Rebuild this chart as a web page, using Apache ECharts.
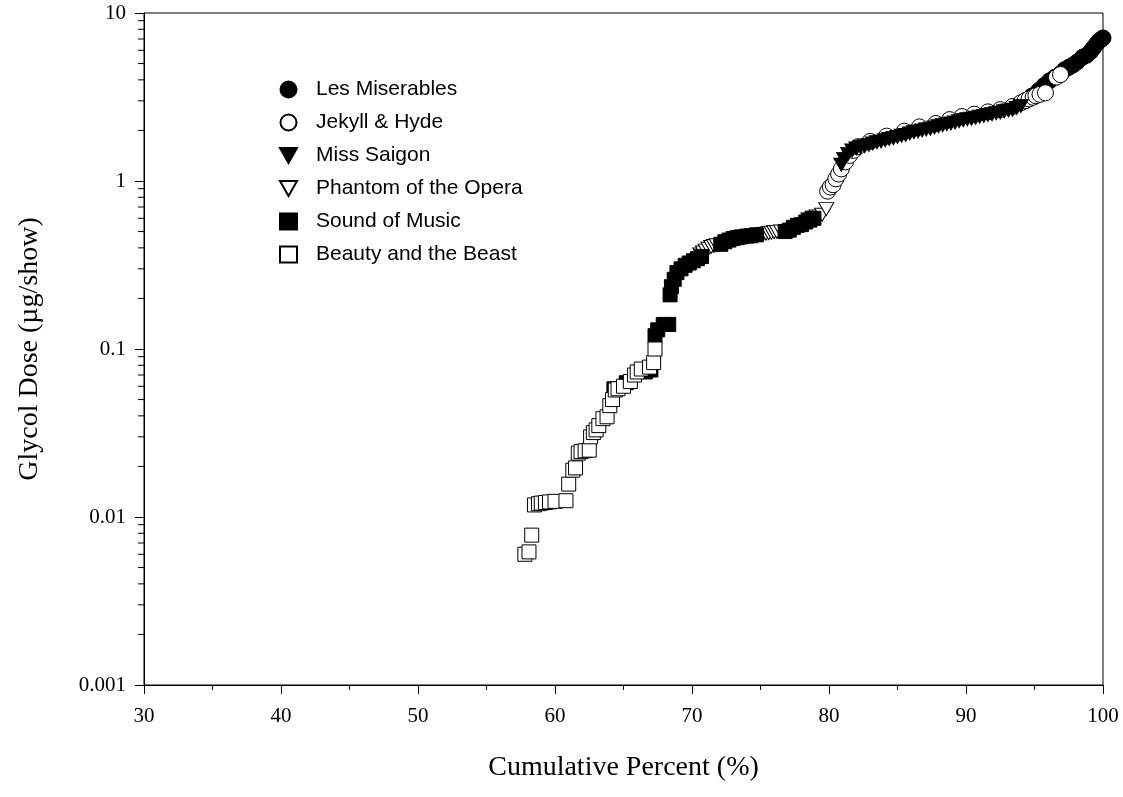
<!DOCTYPE html>
<html lang="en">

<head>
    <meta charset="UTF-8">
    <title>Glycol dose</title>
    <script src="https://cdn.jsdelivr.net/npm/echarts@6/dist/echarts.min.js"></script>
    <style>
        body { margin: 0; background: #fff; }
    </style>
</head>

<body>
    <div id="main" style="width: 1123px;height: 797px;"></div>

    <script type="text/javascript">
        // x = cumulative percent, y = dose (ug/show)
        var lesMiserables = [[94.3, 3.0], [94.8, 3.2], [95.3, 3.45], [95.7, 3.7], [96.1, 3.95], [96.5, 4.15], [96.9, 4.35],
            [97.2, 4.6], [97.5, 4.75], [97.8, 4.9], [98.1, 5.1], [98.5, 5.45], [98.8, 5.6], [99.1, 5.9], [99.3, 6.2],
            [99.5, 6.5], [99.7, 6.8], [99.9, 7.0], [100.0, 7.1]];
        var jekyllHyde = [[79.9, 0.87], [80.1, 0.92], [80.3, 0.95], [80.5, 1.03], [80.7, 1.10], [80.9, 1.18], [81.2, 1.30],
            [81.5, 1.42], [81.8, 1.52], [82.1, 1.60], [83.0, 1.72], [84.2, 1.85], [85.5, 1.98], [86.6, 2.10], [87.8, 2.20],
            [88.8, 2.32], [89.7, 2.42], [90.6, 2.50], [91.6, 2.58], [92.5, 2.66], [93.4, 2.78], [94.0, 2.92], [94.3, 3.00],
            [94.6, 3.08], [94.9, 3.15], [95.1, 3.22], [95.4, 3.28], [95.8, 3.35], [96.6, 4.15], [96.9, 4.30]];
        var missSaigon = [[80.9, 1.25], [81.1, 1.35], [81.4, 1.45], [81.7, 1.52], [82.0, 1.56], [82.3, 1.59], [82.6, 1.61],
            [82.9, 1.64], [83.2, 1.67], [83.5, 1.70], [83.8, 1.72], [84.1, 1.75], [84.4, 1.78], [84.7, 1.80], [85.0, 1.83],
            [85.3, 1.86], [85.6, 1.88], [85.9, 1.92], [86.2, 1.95], [86.5, 1.97], [86.8, 2.00], [87.1, 2.03], [87.4, 2.05],
            [87.7, 2.08], [88.0, 2.12], [88.3, 2.15], [88.6, 2.18], [88.9, 2.20], [89.2, 2.23], [89.5, 2.27], [89.8, 2.30],
            [90.1, 2.33], [90.4, 2.35], [90.7, 2.38], [91.0, 2.41], [91.3, 2.44], [91.6, 2.47], [91.9, 2.50], [92.2, 2.53],
            [92.5, 2.56], [92.8, 2.60], [93.1, 2.63], [93.4, 2.66], [93.7, 2.72], [94.0, 2.80]];
        var phantom = [[70.6, 0.365], [70.8, 0.375], [71.0, 0.385], [71.2, 0.395], [71.4, 0.405], [71.6, 0.410], [71.8, 0.415],
            [73.8, 0.462], [75.0, 0.480], [75.2, 0.483], [75.4, 0.486], [75.6, 0.489], [75.8, 0.492], [76.0, 0.495],
            [76.2, 0.498], [76.5, 0.500], [78.5, 0.590], [78.8, 0.605], [79.1, 0.615], [79.5, 0.630], [79.8, 0.680]];
        var soundOfMusic = [[64.3, 0.058], [65.2, 0.063], [66.6, 0.073], [67.0, 0.075], [67.3, 0.120], [67.5, 0.130],
            [67.9, 0.140], [68.3, 0.140], [68.4, 0.210], [68.5, 0.235], [68.7, 0.260], [68.9, 0.285], [69.2, 0.300],
            [69.5, 0.315], [69.8, 0.325], [70.1, 0.335], [70.4, 0.345], [70.7, 0.355], [72.1, 0.420], [72.4, 0.435],
            [72.7, 0.445], [73.0, 0.455], [73.3, 0.460], [73.6, 0.465], [74.0, 0.470], [74.3, 0.472], [74.7, 0.478],
            [76.8, 0.500], [77.1, 0.510], [77.4, 0.530], [77.7, 0.545], [78.0, 0.550], [78.3, 0.570], [78.6, 0.585],
            [78.9, 0.600]];
        var beautyBeast = [[57.8, 0.0060], [58.1, 0.0062], [58.3, 0.0078], [58.5, 0.0118], [58.8, 0.0120], [59.0, 0.0121],
            [59.3, 0.0122], [59.6, 0.0123], [60.0, 0.0124], [60.8, 0.0125], [61.0, 0.0157], [61.3, 0.0190], [61.5, 0.0196],
            [61.7, 0.0240], [61.9, 0.0245], [62.2, 0.0248], [62.5, 0.0250], [62.6, 0.0300], [62.8, 0.0318], [63.0, 0.0330],
            [63.2, 0.0350], [63.5, 0.0385], [63.8, 0.0395], [64.0, 0.0460], [64.2, 0.0500], [64.4, 0.0570], [64.6, 0.0580],
            [65.0, 0.0600], [65.5, 0.0640], [65.8, 0.0700], [66.0, 0.0730], [66.3, 0.0760], [66.9, 0.0780], [67.2, 0.0830],
            [67.3, 0.1000]];

        var yTickLabels = ['0.001', '0.01', '0.1', '1', '10'];
        var xTickLabels = ['30', '40', '50', '60', '70', '80', '90', '100'];

        // minor ticks of the log axis (2..9 in each decade)
        var yMinorTicks = [];
        [0.001, 0.01, 0.1, 1].forEach(function (d) {
            for (var k = 2; k <= 9; k++) yMinorTicks.push([30, +(d * k).toPrecision(3)]);
        });

        var serif = 'Liberation Serif, Times New Roman, serif';
        var sans = 'Liberation Sans, Arial, sans-serif';
        var downTri = 'path://M0,0 L10,0 L5,8.7 Z';

        function scatter(name, data, symbol, size, filled) {
            return {
                name: name,
                type: 'scatter',
                data: data,
                symbol: symbol,
                symbolSize: size,
                itemStyle: {
                    color: filled ? '#000' : '#fff',
                    borderColor: '#000',
                    borderWidth: 1,
                    opacity: 1
                }
            };
        }

        var myChart = echarts.init(document.getElementById('main'));
        var option = {
            animation: false,
            backgroundColor: '#fff',
            grid: {
                left: 144, right: 20, top: 13, bottom: 112,
                show: true, borderColor: '#000', borderWidth: 1
            },
            legend: {
                orient: 'vertical',
                left: 274, top: 74,
                itemWidth: 17, itemHeight: 16, itemGap: 12,
                data: ['Les Miserables', 'Jekyll & Hyde', 'Miss Saigon', 'Phantom of the Opera', 'Sound of Music', 'Beauty and the Beast'],
                textStyle: { fontFamily: sans, fontSize: 21, color: '#000', padding: [0, 0, 0, 14] }
            },
            xAxis: {
                type: 'value',
                min: 30, max: 100, interval: 10,
                name: 'Cumulative Percent (%)',
                nameLocation: 'middle', nameGap: 69,
                nameTextStyle: { fontFamily: serif, fontSize: 28, color: '#000' },
                axisLine: { lineStyle: { color: '#000', width: 1 } },
                axisTick: { length: 9, lineStyle: { color: '#000' } },
                minorTick: { show: true, splitNumber: 2, length: 5, lineStyle: { color: '#000' } },
                splitLine: { show: false },
                axisLabel: {
                    fontFamily: serif, fontSize: 21, color: '#000', margin: 21,
                    formatter: function (v, i) { return xTickLabels[i]; }
                }
            },
            yAxis: {
                type: 'log', logBase: 10,
                min: 0.001, max: 10,
                name: 'Glycol Dose (µg/show)',
                nameLocation: 'middle', nameGap: 100,
                nameTextStyle: { fontFamily: serif, fontSize: 28, color: '#000' },
                axisLine: { show: true, lineStyle: { color: '#000', width: 1 } },
                axisTick: { length: 9, lineStyle: { color: '#000' } },
                splitLine: { show: false },
                axisLabel: {
                    fontFamily: serif, fontSize: 21, color: '#000', margin: 18,
                    formatter: function (v, i) { return yTickLabels[i]; }
                }
            },
            series: [
                {
                    type: 'custom',
                    silent: true,
                    clip: false,
                    data: yMinorTicks,
                    renderItem: function (params, api) {
                        var p = api.coord([api.value(0), api.value(1)]);
                        return {
                            type: 'line',
                            shape: { x1: p[0] - 6, y1: p[1], x2: p[0], y2: p[1] },
                            style: { stroke: '#000', lineWidth: 1 }
                        };
                    }
                },
                scatter('Les Miserables', lesMiserables, 'circle', 16, true),
                scatter('Jekyll & Hyde', jekyllHyde, 'circle', 16, false),
                scatter('Miss Saigon', missSaigon, downTri, [15, 13], true),
                scatter('Phantom of the Opera', phantom, downTri, [15, 13], false),
                scatter('Sound of Music', soundOfMusic, 'rect', 14, true),
                scatter('Beauty and the Beast', beautyBeast, 'rect', 14, false)
            ]
        };
        myChart.setOption(option);
    </script>
</body>

</html>
